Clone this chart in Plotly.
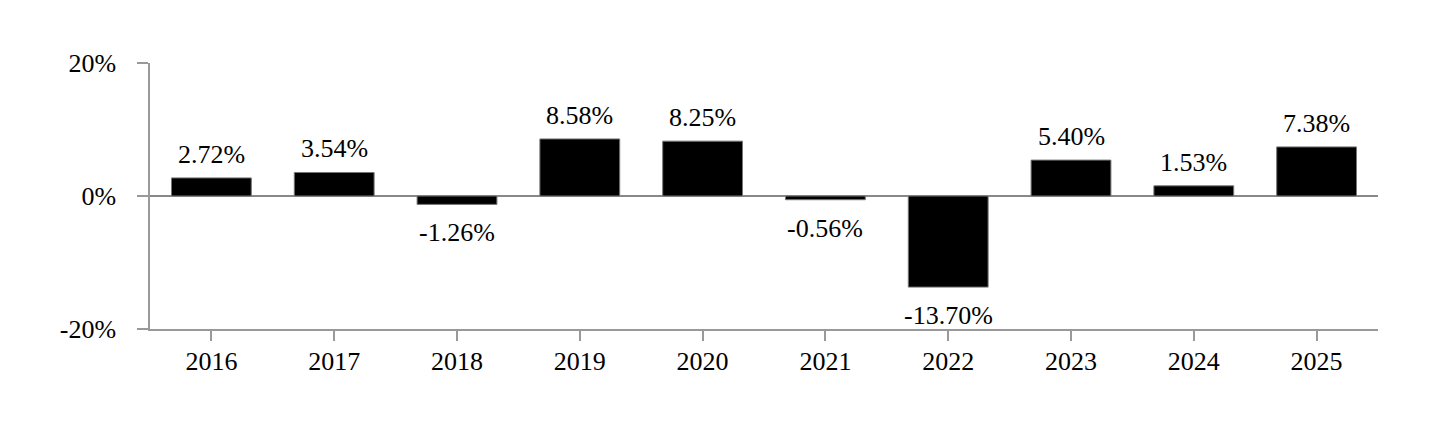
import plotly.graph_objects as go

years = ["2016", "2017", "2018", "2019", "2020", "2021", "2022", "2023", "2024", "2025"]
returns = [2.72, 3.54, -1.26, 8.58, 8.25, -0.56, -13.70, 5.40, 1.53, 7.38]
labels = [f"{v:.2f}%" for v in returns]
ytick_vals = [-20, 0, 20]
ytick_text = ["-20%", "0%", "20%"]

FONT = "Liberation Serif"

fig = go.Figure()
fig.add_trace(go.Bar(
    x=years, y=returns, width=0.65,
    marker=dict(color="#000000", line=dict(color="#777777", width=1)),
    hoverinfo="skip",
))

for i, (v, t) in enumerate(zip(returns, labels)):
    fig.add_annotation(
        x=i, y=v, text=t, showarrow=False,
        yanchor="bottom" if v >= 0 else "top",
        yshift=7 if v >= 0 else -12,
        font=dict(family=FONT, size=26, color="#000000"),
    )

fig.update_layout(
    width=1440, height=440,
    margin=dict(l=150, r=62, t=63, b=111),
    paper_bgcolor="white", plot_bgcolor="white",
    showlegend=False,
    font=dict(family=FONT, size=26, color="#000000"),
)
fig.update_xaxes(
    type="category", range=[-0.5, len(years) - 0.5],
    showline=True, linecolor="#999999", linewidth=1.5,
    ticks="outside", ticklen=10, tickcolor="#999999", tickwidth=1.5,
    showgrid=False, zeroline=False,
    tickfont=dict(family=FONT, size=26, color="#000000"),
    ticklabelstandoff=-2,
)
fig.update_yaxes(
    range=[-20, 20],
    tickvals=ytick_vals, ticktext=ytick_text,
    showline=True, linecolor="#999999", linewidth=1.5,
    ticks="outside", ticklen=11, tickcolor="#999999", tickwidth=1.5,
    showgrid=True, gridcolor="#e3e3e3", gridwidth=1.5,
    zeroline=True, zerolinecolor="#888888", zerolinewidth=1.5,
    tickfont=dict(family=FONT, size=26, color="#000000"),
    ticklabelstandoff=16,
)

fig.write_html("out.html")
